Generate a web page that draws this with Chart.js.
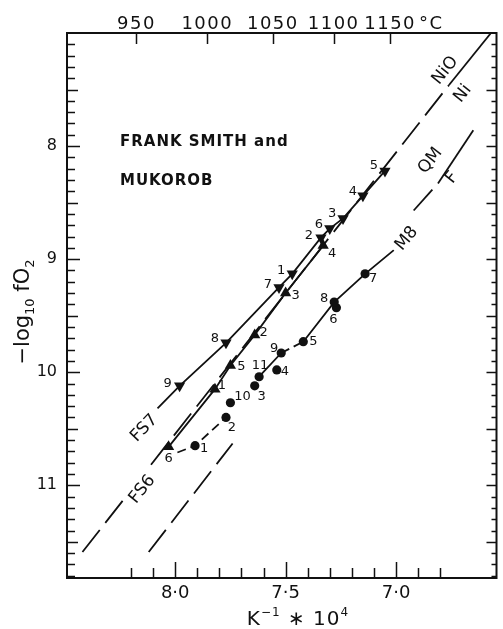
<!DOCTYPE html>
<html>
<head>
<meta charset="utf-8">
<script src="https://cdn.jsdelivr.net/npm/chart.js@4.4.0/dist/chart.umd.min.js"></script>
<style>
  html, body { margin: 0; padding: 0; background: #fff; }
</style>
</head>
<body>
<canvas id="chart" width="503" height="629"></canvas>
<script>
// values (x = 1/K * 10^4, y = -log10 fO2)
var fs7Nums = ['1', '2', '3', '4', '5', '6', '7', '8', '9'];
var fs7X = [7.47, 7.34, 7.24, 7.15, 7.05, 7.30, 7.53, 7.77, 7.98];
var fs7Y = [9.13, 8.81, 8.64, 8.44, 8.22, 8.73, 9.25, 9.74, 10.12];

var fs6Nums = ['1', '2', '3', '4', '5', '6'];
var fs6X = [7.82, 7.64, 7.50, 7.33, 7.75, 8.03];
var fs6Y = [10.15, 9.67, 9.30, 8.88, 9.94, 10.66];

var m8Nums = ['1', '2', '3', '4', '5', '6', '7', '8', '9', '10', '11'];
var m8X = [7.91, 7.77, 7.64, 7.54, 7.42, 7.27, 7.14, 7.28, 7.52, 7.75, 7.62];
var m8Y = [10.65, 10.40, 10.12, 9.98, 9.73, 9.43, 9.13, 9.38, 9.83, 10.27, 10.04];

// lines drawn through each run
var fs7LineX = [8.08, 7.98, 7.77, 7.53, 7.47, 7.34, 7.30, 7.24, 7.15, 7.05];
var fs7LineY = [10.32, 10.12, 9.74, 9.25, 9.13, 8.81, 8.73, 8.64, 8.44, 8.22];
var fs6LineX = [8.03, 7.82, 7.75, 7.64, 7.50, 7.33];
var fs6LineY = [10.66, 10.15, 9.94, 9.67, 9.30, 8.88];
var m8LineX = [7.99, 7.91, 7.77, null, 7.62, 7.52, 7.42, 7.28, 7.14, 7.01];
var m8LineY = [10.71, 10.65, 10.40, null, 10.04, 9.83, 9.73, 9.38, 9.13, 8.92];

// buffer curves
var niLineX = [8.42, 6.76, 6.57];
var niLineY = [11.59, 7.46, 7.00];
var qmLineX = [8.12, 7.74, null, 6.92, 6.81, 6.65];
var qmLineY = [11.59, 10.63, null, 8.57, 8.33, 7.86];

// axis labels
var xTickLabels = [8.0, 7.5, 7.0];
var yTickLabels = [8, 9, 10, 11];
var tempTicks = [950, 1000, 1050, 1100, 1150];

var ink = '#111';
var font = 'DejaVu Sans';

// number offsets next to each marker (px)
var fs7Off = [[-11, -3], [-12, -2], [-11, -5], [-10, -4], [-11, -5], [-11, -4], [-11, -3], [-11, -4], [-12, -2]];
var fs6Off = [[7, -4], [9, -2], [10, 3], [9, 8], [11, 1], [0, 12]];
var m8Off = [[9, 3], [6, 10], [7, 11], [8, 2], [10, 0], [-3, 12], [8, 5], [-10, -3], [-7, -4], [12, -6], [1, -11]];

var notes = [
  { t: 'FS7', x: 8.143, y: 10.49, a: -46, bg: true },
  { t: 'FS6', x: 8.152, y: 11.03, a: -51, bg: true },
  { t: 'NiO', x: 6.781, y: 7.327, a: -51 },
  { t: 'Ni', x: 6.701, y: 7.531, a: -51 },
  { t: 'QM', x: 6.848, y: 8.124, a: -52 },
  { t: 'F', x: 6.75, y: 8.274, a: -52 },
  { t: 'M8', x: 6.955, y: 8.814, a: -50, bg: true }
];

function pts(xa, ya) {
  return xa.map(function(x, i) {
    return x === null ? { x: null, y: null } : { x: x, y: ya[i] };
  });
}

function markers(xa, ya, style, rot, r) {
  return {
    data: pts(xa, ya), showLine: false, pointStyle: style, rotation: rot,
    pointRadius: r, pointHoverRadius: r, pointBackgroundColor: ink, pointBorderWidth: 0, order: 0
  };
}

function line(xa, ya, dashFn) {
  var ds = {
    data: pts(xa, ya), showLine: true, pointRadius: 0, pointHoverRadius: 0,
    borderColor: ink, borderWidth: 1.8, order: 1
  };
  if (dashFn) ds.segment = { borderDash: dashFn };
  return ds;
}

var figurePlugin = {
  id: 'figure',
  afterDatasetsDraw: function(chart) {
    var ctx = chart.ctx, xs = chart.scales.x, ys = chart.scales.y, a = chart.chartArea;
    ctx.save();
    ctx.strokeStyle = ink;
    ctx.fillStyle = ink;

    // frame + inward ticks
    ctx.lineWidth = 2;
    ctx.strokeRect(a.left, a.top, a.right - a.left, a.bottom - a.top);
    ctx.lineWidth = 1.5;
    ctx.beginPath();
    for (var k = 71; k <= 118; k++) {
      var py = Math.round(ys.getPixelForValue(k / 10)) + 0.5;
      var l = k % 10 === 0 ? 13 : (k % 5 === 0 ? 11 : 8);
      ctx.moveTo(a.left, py); ctx.lineTo(a.left + l, py);
      var r = k % 5 === 0 ? 10 : 5;
      ctx.moveTo(a.right, py); ctx.lineTo(a.right - r, py);
    }
    for (k = 68; k <= 82; k++) {
      var px = Math.round(xs.getPixelForValue(k / 10)) + 0.5;
      ctx.moveTo(px, a.bottom); ctx.lineTo(px, a.bottom - (k % 5 === 0 ? 16 : 10));
    }
    tempTicks.forEach(function(t) {
      var tx = Math.round(xs.getPixelForValue(1e4 / (t + 273.15))) + 0.5;
      ctx.moveTo(tx, a.top); ctx.lineTo(tx, a.top + 11);
    });
    ctx.stroke();

    // top temperature labels
    ctx.font = '18px "' + font + '"';
    ctx.letterSpacing = '1.5px';
    ctx.textBaseline = 'middle';
    tempTicks.forEach(function(t, i) {
      var tx = xs.getPixelForValue(1e4 / (t + 273.15));
      ctx.textAlign = 'center';
      ctx.fillText(String(t), tx, 24);
      if (i === tempTicks.length - 1) {
        var w = ctx.measureText(String(t)).width;
        ctx.textAlign = 'left';
        ctx.fillText('°C', tx + w / 2 + 3, 24);
      }
    });
    ctx.letterSpacing = '0px';

    // y title: -log10 fO2
    var parts = [['−log', 21, 0], ['10', 13, 5], [' f', 21, 0], ['O', 21, 0], ['2', 13, 5]];
    ctx.save();
    ctx.translate(22, 312);
    ctx.rotate(-Math.PI / 2);
    ctx.textAlign = 'left';
    ctx.textBaseline = 'alphabetic';
    var tot = 0;
    parts.forEach(function(p) { ctx.font = p[1] + 'px "' + font + '"'; tot += ctx.measureText(p[0]).width; });
    var cx = -tot / 2;
    parts.forEach(function(p) {
      ctx.font = p[1] + 'px "' + font + '"';
      ctx.fillText(p[0], cx, 7 + p[2]);
      cx += ctx.measureText(p[0]).width;
    });
    ctx.restore();

    // x title: K^-1 * 10^4
    var xp = [['K', 20, 0], ['−1', 12, -9], [' ∗ 10', 20, 0], ['4', 12, -9]];
    ctx.textAlign = 'left';
    ctx.textBaseline = 'alphabetic';
    ctx.letterSpacing = '1px';
    tot = 0;
    xp.forEach(function(p) { ctx.font = p[1] + 'px "' + font + '"'; tot += ctx.measureText(p[0]).width; });
    cx = 298 - tot / 2;
    xp.forEach(function(p) {
      ctx.font = p[1] + 'px "' + font + '"';
      ctx.fillText(p[0], cx, 625 + p[2]);
      cx += ctx.measureText(p[0]).width;
    });

    // site caption
    ctx.font = 'bold 15px "' + font + '"';
    ctx.textBaseline = 'middle';
    ctx.fillText('FRANK SMITH and', 120, 142);
    ctx.fillText('MUKOROB', 120, 181);
    ctx.letterSpacing = '0px';

    // curve labels
    ctx.font = '17px "' + font + '"';
    ctx.textAlign = 'center';
    notes.forEach(function(n) {
      ctx.save();
      ctx.translate(xs.getPixelForValue(n.x), ys.getPixelForValue(n.y));
      ctx.rotate(n.a * Math.PI / 180);
      if (n.bg) {
        var w = ctx.measureText(n.t).width;
        ctx.fillStyle = '#fff';
        ctx.fillRect(-w / 2 - 4, -10, w + 8, 20);
        ctx.fillStyle = ink;
      }
      ctx.fillText(n.t, 0, 1);
      ctx.restore();
    });

    // run numbers beside markers
    ctx.font = '13px "' + font + '"';
    [[0, fs7Nums, fs7Off], [1, fs6Nums, fs6Off], [2, m8Nums, m8Off]].forEach(function(s) {
      var meta = chart.getDatasetMeta(s[0]);
      meta.data.forEach(function(el, i) {
        ctx.fillText(s[1][i], el.x + s[2][i][0], el.y + s[2][i][1]);
      });
    });
    ctx.restore();
  }
};

Chart.defaults.font.family = font;
Chart.defaults.color = ink;

var ctx = document.getElementById('chart').getContext('2d');
new Chart(ctx, {
  type: 'scatter',
  data: {
    datasets: [
      markers(fs7X, fs7Y, 'triangle', 180, 6.5),
      markers(fs6X, fs6Y, 'triangle', 0, 6.5),
      markers(m8X, m8Y, 'circle', 0, 4.6),
      line(fs7LineX, fs7LineY),
      line(fs6LineX, fs6LineY),
      line(m8LineX, m8LineY, function(c) { return [0, 1, 5].indexOf(c.p0DataIndex) >= 0 ? [9, 5] : []; }),
      line(niLineX, niLineY, function(c) { return c.p1DataIndex === niLineX.length - 1 ? [] : [28, 9]; }),
      line(qmLineX, qmLineY, function(c) { return c.p1DataIndex === qmLineX.length - 1 ? [] : [28, 9]; })
    ]
  },
  options: {
    responsive: false,
    animation: false,
    events: [],
    layout: { padding: { top: 33, right: 1, left: 0, bottom: 0 } },
    plugins: { legend: { display: false }, tooltip: { enabled: false } },
    scales: {
      x: {
        type: 'linear', position: 'bottom', reverse: true, min: 6.545, max: 8.49,
        grid: { display: false, drawTicks: false }, border: { display: false },
        ticks: {
          stepSize: 0.5, includeBounds: false, autoSkip: false, padding: 5, maxRotation: 0,
          font: { size: 18 }, color: ink,
          callback: function(v) {
            var r = Math.round(v * 10) / 10;
            return xTickLabels.indexOf(r) >= 0 ? r.toFixed(1).replace('.', '·') : '';
          }
        },
        afterFit: function(s) { s.height = 51; }
      },
      y: {
        type: 'linear', position: 'left', reverse: true, min: 7, max: 11.82,
        grid: { display: false, drawTicks: false }, border: { display: false },
        ticks: {
          stepSize: 1, includeBounds: false, padding: 10, font: { size: 16 }, color: ink,
          callback: function(v) { return yTickLabels.indexOf(v) >= 0 ? String(v) : ''; }
        },
        afterFit: function(s) { s.width = 67; }
      }
    }
  },
  plugins: [figurePlugin]
});
</script>
</body>
</html>
